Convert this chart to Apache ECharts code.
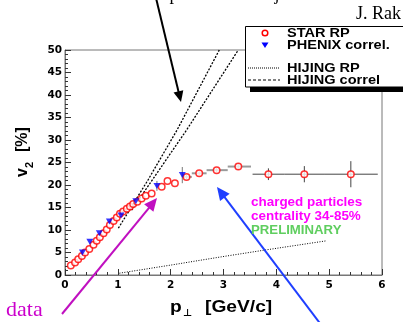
<!DOCTYPE html>
<html><head><meta charset="utf-8">
<script src="https://cdn.jsdelivr.net/npm/echarts@6/dist/echarts.min.js"></script>
<style>html,body{margin:0;padding:0;background:#fff;overflow:hidden}#c{width:403px;height:322px}</style>
</head><body><div id="c"></div>
<script>
// ---- data ----
const xRange = [0, 6];
const yRange = [0, 50];
const starRP = [
  [0.11,2.1],[0.19,2.8],[0.25,3.5],[0.32,4.2],[0.38,5.0],[0.46,5.8],[0.54,6.7],[0.60,7.6],
  [0.66,8.4],[0.73,9.3],[0.79,10.1],[0.85,11.1],[0.92,12.0],[0.98,12.8],[1.04,13.6],[1.10,14.1],
  [1.17,14.7],[1.23,15.2],[1.29,15.8],[1.37,16.3],[1.45,17.0],[1.53,17.6],[1.64,18.1],[1.83,19.6],
  [1.94,20.9],[2.08,20.4],[2.30,21.8],[2.54,22.6],[2.87,23.3],[3.28,24.1],[3.85,22.4],[4.53,22.4],[5.41,22.4]
];
// [x, y, xLow, xHigh, yLow, yHigh]
const starErr = [
  [2.30,21.8,2.24,2.40,21.3,22.3],
  [2.54,22.6,2.40,2.68,22.1,23.1],
  [2.87,23.3,2.68,3.08,22.8,23.8],
  [3.28,24.1,3.08,3.52,23.4,24.8],
  [3.85,22.4,3.55,4.15,21.1,23.7],
  [4.53,22.4,4.15,4.92,20.6,24.2],
  [5.41,22.4,4.92,5.92,19.5,25.3]
];
const phenix = [[0.33,5.0],[0.47,7.4],[0.65,9.3],[0.84,11.9],[1.06,13.2],[1.34,16.4],[1.74,19.8],[2.22,22.2]];
const phenixErr = [
  [1.74,19.8,1.74,1.74,18.7,20.9],
  [2.22,22.2,2.22,2.22,20.4,24.0]
];
const hijingRP = [[1.03,0.4],[2.0,2.2],[2.94,4.0],[3.76,5.5],[4.95,7.6]];
const hijingCorrA = [[1.01,10.4],[1.57,21.1],[2.12,32.2],[2.92,50]];
const hijingCorrB = [[1.26,14.4],[2.30,32.2],[3.28,50]];

// ---- chart ----
const chart = echarts.init(document.getElementById('c'), null, {renderer:'canvas'});
const SANS = '"Liberation Sans", "DejaVu Sans", sans-serif';
const SERIF = '"Liberation Serif", "DejaVu Serif", serif';

function errRender(params, api) {
  const x = api.value(0), y = api.value(1);
  const pL = api.coord([api.value(2), y]), pR = api.coord([api.value(3), y]);
  const pB = api.coord([x, api.value(4)]), pT = api.coord([x, api.value(5)]);
  const high = x > 3.5;
  const st = {stroke: high ? '#444' : '#9a9a9a', lineWidth: high ? 1 : 2};
  const st2 = {stroke: high ? '#444' : '#777', lineWidth: 1};
  return {type:'group', children:[
    {type:'line', shape:{x1:pL[0],y1:pL[1],x2:pR[0],y2:pR[1]}, style:st},
    {type:'line', shape:{x1:pB[0],y1:pB[1],x2:pT[0],y2:pT[1]}, style:st2}
  ]};
}

function arrow(tail, tip, color, w, hl, hw) {
  const dx = tip[0]-tail[0], dy = tip[1]-tail[1], L = Math.hypot(dx, dy);
  const ux = dx/L, uy = dy/L;
  const bx = tip[0]-ux*hl, by = tip[1]-uy*hl;
  return [
    {type:'line', z:200, shape:{x1:tail[0],y1:tail[1],x2:bx+ux*2,y2:by+uy*2}, style:{stroke:color,lineWidth:w}},
    {type:'polygon', z:200, shape:{points:[tip,[bx-uy*hw,by+ux*hw],[bx+uy*hw,by-ux*hw]]}, style:{fill:color}}
  ];
}
function txt(x, y, s, o) {
  o = o || {};
  return {type:'text', z:210, x:x, y:y, scaleX:o.sx||1, rotation:o.rot||0,
    style:{text:s, fill:o.color||'#000', font:(o.weight||'bold')+' '+(o.size||13)+'px '+(o.family||SANS),
      align:o.align||'left', verticalAlign:'middle'}};
}

const graphics = [];
// legend box with shadow
graphics.push({type:'rect', z:150, shape:{x:250, y:87, width:170, height:5}, style:{fill:'#000'}});
graphics.push({type:'rect', z:151, shape:{x:245.5, y:26.5, width:170, height:60.5}, style:{fill:'#fff', stroke:'#000', lineWidth:1}});
graphics.push({type:'circle', z:160, shape:{cx:265, cy:33, r:2.8}, style:{fill:'#fff', stroke:'#ff0000', lineWidth:1.5}});
graphics.push({type:'polygon', z:160, shape:{points:[[261.5,42.5],[268.5,42.5],[265,48]]}, style:{fill:'#0000ff'}});
graphics.push({type:'line', z:160, shape:{x1:248, y1:68, x2:280, y2:68}, style:{stroke:'#000', lineWidth:1, lineDash:[1,1]}});
graphics.push({type:'line', z:160, shape:{x1:248, y1:80, x2:280, y2:80}, style:{stroke:'#000', lineWidth:1, lineDash:[3,2]}});
graphics.push(txt(287, 33, 'STAR RP', {sx:1.12}));
graphics.push(txt(287, 45, 'PHENIX correl.', {sx:1.12}));
graphics.push(txt(287, 68, 'HIJING RP', {sx:1.12}));
graphics.push(txt(287, 80, 'HIJING correl', {sx:1.12}));
// annotations
graphics.push(txt(251, 203, 'charged particles', {sx:1.12, size:12, color:'#ff00ff'}));
graphics.push(txt(251, 217, 'centrality 34-85%', {sx:1.12, size:12, color:'#ff00ff'}));
graphics.push(txt(251, 231, 'PRELIMINARY', {sx:1.1, size:12, color:'#5fce5f'}));
graphics.push(txt(401, 14.5, 'J. Rak', {weight:'normal', size:18, family:SERIF, align:'right'}));
graphics.push(txt(5, -4.5, 'HIJING correlation of particles from jets', {weight:'normal', size:18, family:SERIF}));
graphics.push(txt(6, 310, 'data', {weight:'normal', size:22, family:SERIF, color:'#cc00cc'}));
// axis titles
graphics.push(txt(170, 307.5, 'p', {sx:1.2, size:16}));
graphics.push(txt(183, 313, '\u22A5', {size:10}));
graphics.push(txt(205, 307.5, '[GeV/c]', {sx:1.2, size:16}));
graphics.push(txt(22.5, 177, 'v', {size:16, rot:Math.PI/2}));
graphics.push(txt(30, 168, '2', {size:11, rot:Math.PI/2}));
graphics.push(txt(22.5, 152, '[%]', {size:16, rot:Math.PI/2}));
// arrows
arrow([156,-2],[181,102],'#000',2,11,5).forEach(g=>graphics.push(g));
arrow([62,314],[157,198],'#c010c0',2,13,6).forEach(g=>graphics.push(g));
arrow([322,326],[217,187],'#1f3fff',2,13,6).forEach(g=>graphics.push(g));

const tickLabel = {color:'#000', fontFamily:'"DejaVu Sans", sans-serif', fontWeight:'bold', fontSize:10.5};

chart.setOption({
  animation:false,
  backgroundColor:'#fff',
  grid:{left:65, right:21, top:50, bottom:47, show:true, borderColor:'#777', borderWidth:1, backgroundColor:'transparent'},
  xAxis:{type:'value', min:xRange[0], max:xRange[1], interval:1,
    axisLine:{onZero:false, lineStyle:{color:'#777', width:1}},
    axisTick:{inside:true, length:6, lineStyle:{color:'#333'}},
    minorTick:{show:true, splitNumber:5, length:3, lineStyle:{color:'#333'}},
    splitLine:{show:false},
    axisLabel:Object.assign({margin:5}, tickLabel)},
  yAxis:{type:'value', min:yRange[0], max:yRange[1], interval:5,
    axisLine:{show:true, onZero:false, lineStyle:{color:'#777', width:1}},
    axisTick:{show:true, inside:true, length:6, lineStyle:{color:'#333'}},
    minorTick:{show:true, splitNumber:5, length:3, lineStyle:{color:'#333'}},
    splitLine:{show:false},
    axisLabel:Object.assign({margin:3}, tickLabel)},
  series:[
    {name:'HIJING RP', type:'line', data:hijingRP, symbol:'none', z:2,
      lineStyle:{color:'#000', width:1, type:[1,1.5]}},
    {name:'HIJING correl A', type:'line', data:hijingCorrA, symbol:'none', z:2,
      lineStyle:{color:'#000', width:1.3, type:[2,1.5]}},
    {name:'HIJING correl B', type:'line', data:hijingCorrB, symbol:'none', z:2,
      lineStyle:{color:'#000', width:1.3, type:[2,1.5]}},
    {name:'STAR err', type:'custom', data:starErr, renderItem:errRender, z:3,
      encode:{x:0, y:1}},
    {name:'PHENIX err', type:'custom', data:phenixErr, renderItem:errRender, z:3,
      encode:{x:0, y:1}},
    {name:'STAR RP', type:'scatter', data:starRP, symbol:'circle', symbolSize:6.5, z:4,
      itemStyle:{color:'#fff', borderColor:'#ff0000', borderWidth:1.5}},
    {name:'PHENIX correl.', type:'scatter', data:phenix, symbol:'triangle', symbolRotate:180, symbolSize:[7,6], z:5,
      itemStyle:{color:'#0000ff'}}
  ],
  graphic:graphics
});
</script></body></html>
